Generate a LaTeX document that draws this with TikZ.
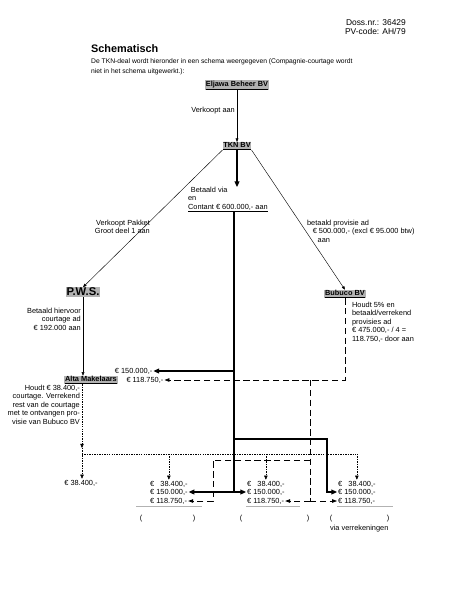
\documentclass[tikz,border=0pt]{standalone}
\usepackage{fontspec}
\setmainfont{Liberation Sans}
\usetikzlibrary{arrows.meta}
\tikzset{
  namebox/.style={fill=black!30, inner sep=1pt, font=\fontsize{10.5}{12}\selectfont\bfseries},
  txt/.style={inner sep=0pt, font=\fontsize{10.5}{12}\selectfont},
  amount/.style={inner sep=1.5pt, font=\fontsize{10.5}{12}\selectfont},
  thinline/.style={line width=0.6pt, -{Triangle[length=5pt,width=4pt]}},
  thickline/.style={line width=1.6pt},
  thickarrow/.style={line width=1.6pt, -{Triangle[length=8pt,width=7pt]}},
  dashline/.style={line width=1pt, dash pattern=on 9pt off 5pt},
  dasharrow/.style={dashline, -{Triangle[length=7pt,width=5pt]}},
  dotline/.style={line width=0.7pt, dash pattern=on 2pt off 1.5pt},
  dotarrow/.style={dotline, -{Triangle[length=6pt,width=5pt]}},
  scanline/.style={line width=0.5pt, draw=black!30},
}
\begin{document}
\begin{tikzpicture}[x=0.05cm, y=-0.05cm]
\useasboundingbox (0,0) rectangle (457,600);
\node[txt, anchor=base east, font=\fontsize{12}{13}\selectfont] (doss) at (406,25) {Doss.nr.: 36429};
\node[txt, anchor=base east, font=\fontsize{12}{13}\selectfont] (pvcode) at (406,34) {PV-code: AH/79};
\node[txt, anchor=base west, font=\fontsize{15.5}{17}\selectfont\bfseries] (title) at (91,52) {Schematisch};
\node[txt, anchor=base west, font=\fontsize{9.6}{11}\selectfont] (intro1) at (91,63) {De TKN-deal wordt hieronder in een schema weergegeven (Compagnie-courtage wordt};
\node[txt, anchor=base west, font=\fontsize{9.6}{11}\selectfont] (intro2) at (91,73) {niet in het schema uitgewerkt.):};
\node[namebox] (eljawa) at (237,85) {\underline{Eljawa Beheer BV}};
\node[namebox] (tkn) at (237,146) {\underline{TKN BV}};
\node[namebox, font=\fontsize{16}{18}\selectfont\bfseries] (pws) at (83,292) {P.W.S.};
\node[namebox] (bubuco) at (345,294) {\underline{Bubuco BV}};
\node[namebox] (alta) at (91,380) {\underline{Alta Makelaars}};
\node[txt, anchor=east] (verkoopt) at (235,111) {Verkoopt aan};
\node[txt, anchor=north west, align=left] (betaald) at (188,187) {\hspace*{4pt}Betaald via\\en\\\underline{Contant € 600.000,- aan}};
\node[txt, anchor=north east, align=right] (pakket) at (150,220) {Verkoopt Pakket\\Groot deel 1 aan};
\node[txt, anchor=north west, align=left] (provisie) at (307,220) {betaald provisie ad\\\hspace*{8pt}€ 500.000,- (excl € 95.000 btw)\\\hspace*{15pt}aan};
\node[txt, anchor=north east, align=right] (hiervoor) at (81,308) {Betaald hiervoor\\courtage ad\\€ 192.000 aan};
\node[txt, anchor=north west, align=left] (houdt) at (352,302) {Houdt 5\% en\\betaald/verrekend\\provisies ad\\€ 475.000,- / 4 =\\118.750,- door aan};
\node[txt, anchor=north east, align=right] (verrekend) at (80,385) {Houdt € 38.400,-\\courtage. Verrekend\\rest van de courtage\\met te ontvangen pro-\\visie van Bubuco BV};
\node[amount, anchor=east] (a150) at (153.5,371) {€ 150.000,-};
\node[amount, anchor=east] (a118) at (164.5,380) {€ 118.750,-};
\node[amount] (g1) at (81,483) {€ 38.400,-};
\node[amount, anchor=west] (g2a) at (149,484) {€ \phantom{1}38.400,-};
\node[amount, anchor=west] (g2b) at (149,492) {€ 150.000,-};
\node[amount, anchor=west] (g2c) at (149,501) {€ 118.750,-};
\node[amount, anchor=west] (g3a) at (246,484) {€ \phantom{1}38.400,-};
\node[amount, anchor=west] (g3b) at (246,492) {€ 150.000,-};
\node[amount, anchor=west] (g3c) at (246,501) {€ 118.750,-};
\node[amount, anchor=west] (g4a) at (337,484) {€ \phantom{1}38.400,-};
\node[amount, anchor=west] (g4b) at (337,492) {€ 150.000,-};
\node[amount, anchor=west] (g4c) at (337,501) {€ 118.750,-};
\node[txt] (g2open) at (141,519) {(};
\node[txt] (g2close) at (194,519) {)};
\node[txt] (g3open) at (241,519) {(};
\node[txt] (g3close) at (308,519) {)};
\node[txt] (g4open) at (331,519) {(};
\node[txt] (g4close) at (388,519) {)};
\node[txt, anchor=west] (via) at (330,529) {via verrekeningen};
\draw[scanline] (136,506) -- (202,506);
\draw[scanline] (246,506) -- (300,506);
\draw[scanline] (337,506) -- (393,506);
\draw[thinline] (eljawa.south) -- (tkn.north);
\draw[thinline] (tkn.south west) -- (pws.north);
\draw[thinline] (tkn.south east) -- (bubuco.north);
\draw[thinline] (pws.south) -- (pws.south |- alta.north);
\draw[thickarrow] (tkn.south) -- (tkn.south |- betaald.north);
\coordinate (trunktop) at (234,211);
\coordinate (bend) at (327,439);
\draw[thickline] (trunktop) -- (trunktop |- g2b);
\draw[thickarrow] (trunktop |- a150) -- (a150.east);
\draw[thickarrow] (trunktop |- bend) -- (bend) |- (g4b.west);
\draw[thickarrow] (trunktop |- g2b) -- (g2b.east);
\draw[thickarrow] (trunktop |- g2b) -- (g3b.west);
\coordinate (dsplit) at (310,380);
\coordinate (dleft) at (213,460);
\draw[dasharrow] (bubuco.south) |- (a118.east);
\draw[dashline] (dsplit) -- (dsplit |- g3c);
\draw[dasharrow] (dsplit |- g3c) -- (g3c.east);
\draw[dasharrow] (dsplit |- g3c) -- (g4c.west);
\draw[dasharrow] (dsplit |- dleft) -- (dleft) |- (g2c.east);
\coordinate (dotstop) at (82,448);
\coordinate (dotjoin) at (82,454);
\draw[dotarrow] (alta.south -| dotstop) -- (dotstop);
\draw[dotarrow] (dotstop) -- (dotstop |- g1.north);
\draw[dotline] (dotjoin) -- (g4a.north |- dotjoin);
\draw[dotarrow] (g2a.north |- dotjoin) -- (g2a.north);
\draw[dotarrow] (g3a.north |- dotjoin) -- (g3a.north);
\draw[dotarrow] (g4a.north |- dotjoin) -- (g4a.north);
\end{tikzpicture}
\end{document}
